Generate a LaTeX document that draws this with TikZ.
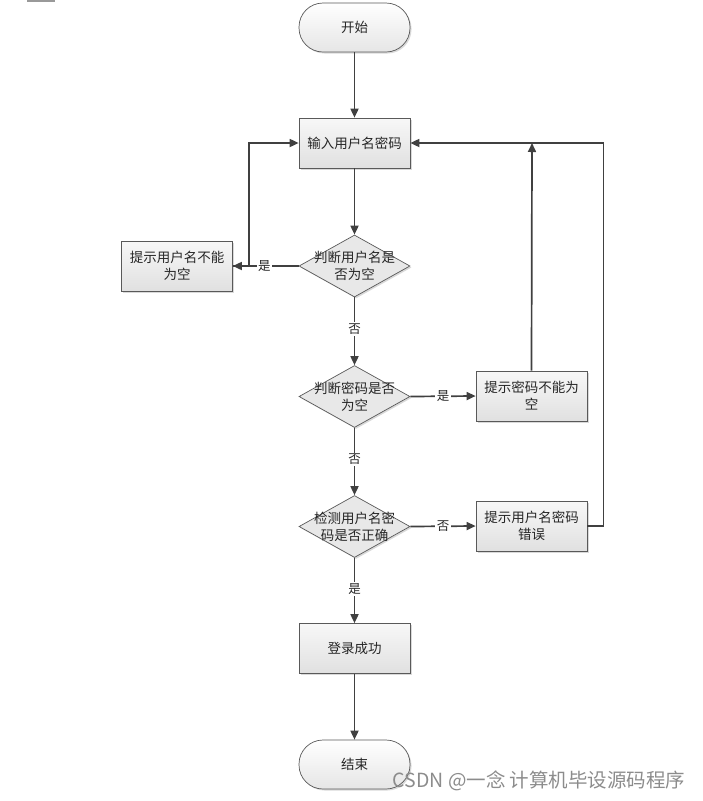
\documentclass[tikz,border=0pt]{standalone}
\usepackage{fontspec}
\newfontfamily\cjk{Noto Sans CJK SC}
\usetikzlibrary{shapes.geometric,arrows.meta,shadows}
\begin{document}
\begin{tikzpicture}[x=1pt,y=-1pt,
  txt/.style={font=\cjk\fontsize{13.5}{17}\selectfont, text=black!85, align=center},
  base/.style={draw=black!65, line width=0.7pt, txt,
    drop shadow={shadow xshift=1.5pt, shadow yshift=-1.5pt, fill=black!25, opacity=0.6}},
  procbox/.style={base, rectangle, minimum width=111pt, minimum height=50pt, text width=104pt, inner sep=1pt,
    top color=black!3, bottom color=black!12},
  termbox/.style={base, rectangle, rounded corners=24pt, minimum width=111pt, minimum height=49pt,
    top color=white, bottom color=black!10},
  decbox/.style={base, diamond, minimum width=111pt, minimum height=62pt, inner sep=0pt, fill=black!9},
  dectext/.style={txt, inner sep=0pt},
  arr/.style={draw=black!75, line width=1.7pt, -{Triangle[length=9pt,width=8pt]}},
  lab/.style={fill=white, inner sep=1.5pt, font=\cjk\fontsize{12.5}{14}\selectfont, text=black!85}
]
\useasboundingbox (0,0) rectangle (702,801);
\fill[black!40] (27,0) rectangle (55,1.5);

\node[termbox] (start) at (354.5,27.5) {开始};
\node[procbox] (input) at (354.5,143) {输入用户名密码};
\node[decbox, label={[dectext]center:判断用户名是\\否为空}] (d1) at (354.5,266) {};
\node[procbox] (e1) at (177,266) {提示用户名不能\\为空};
\node[decbox, label={[dectext]center:判断密码是否\\为空}] (d2) at (354.5,396.5) {};
\node[procbox] (e2) at (531.5,396) {提示密码不能为\\空};
\node[decbox, label={[dectext]center:检测用户名密\\码是否正确}] (d3) at (354.5,526.5) {};
\node[procbox] (e3) at (531.5,526) {提示用户名密码\\错误};
\node[procbox] (ok) at (354.5,648.5) {登录成功};
\node[termbox] (end) at (354.5,764.5) {结束};

\coordinate (j1) at (532,143);

\draw[arr] (start) -- (input);
\draw[arr] (input) -- (d1);
\draw[arr] (d1.west) -- node[lab, pos=0.52] {是} (e1.east);
\draw[arr] (e1.east) -- ++(16,0) |- (input.west);
\draw[arr] (d1.south) -- node[lab, pos=0.47] {否} (d2.north);
\draw[arr] (d2.east) -- node[lab, pos=0.5] {是} (e2.west);
\draw[arr] (e2.north) -- (j1);
\draw[arr] (d2.south) -- node[lab, pos=0.47] {否} (d3.north);
\draw[arr] (d3.east) -- node[lab, pos=0.5] {否} (e3.west);
\draw[arr] (e3.east) -- ++(16,0) |- (input.east);
\draw[arr] (d3.south) -- node[lab, pos=0.47] {是} (ok.north);
\draw[arr] (ok) -- (end);

\node[font=\cjk\fontsize{19.5}{22}\selectfont, text=black!45, anchor=east] (wm) at (689,781) {CSDN @一念 计算机毕设源码程序};
\end{tikzpicture}
\end{document}
